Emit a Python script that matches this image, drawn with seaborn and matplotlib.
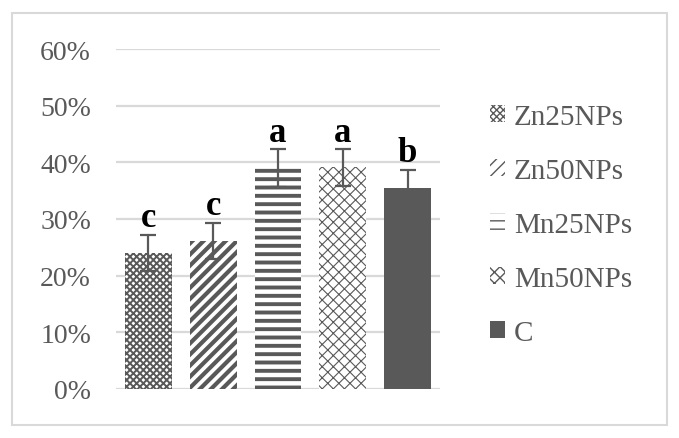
import numpy as np
import seaborn as sns
import matplotlib.pyplot as plt
from matplotlib.patches import Rectangle
from matplotlib.ticker import PercentFormatter

# %%
groups = ["Zn25NPs", "Zn50NPs", "Mn25NPs", "Mn50NPs", "C"]
means = [0.240, 0.261, 0.390, 0.391, 0.354]
errors = [0.032, 0.032, 0.033, 0.032, 0.033]
letters = ["c", "c", "a", "a", "b"]

# %%
sns.set_style("white")
plt.rcParams["font.family"] = ["Liberation Serif", "DejaVu Serif"]
gray = "#595959"
hatches = ["xxxxx", "///", "--", "xxx", ""]
hatch_lw = [1.4, 3.0, 2.8, 0.8, 1.0]
fills = ["white", "white", "white", "white", gray]

fig = plt.figure(figsize=(6.79, 4.39), dpi=100)
ax = fig.add_axes([116 / 679, 49 / 439, 324 / 679, 340 / 439])

sns.barplot(x=groups, y=means, color=gray, width=0.72, errorbar=None, ax=ax)
for p, h, lw, fc in zip(ax.patches, hatches, hatch_lw, fills):
    p.set_facecolor(fc)
    p.set_edgecolor(gray)
    p.set_linewidth(0)
    p.set_hatch(h)
    if hasattr(p, "set_hatch_linewidth"):
        p.set_hatch_linewidth(lw)

xs = np.arange(len(groups))
ax.errorbar(xs, means, yerr=errors, fmt="none", ecolor=gray, elinewidth=1.6,
            capsize=6, capthick=1.6, zorder=5)
for x, m, e, t in zip(xs, means, errors, letters):
    ax.text(x, m + e + 0.015, t, ha="center", va="baseline", fontsize=25,
            fontweight="bold", color="black")

ax.set_ylim(0, 0.6)
ax.set_xlim(-0.5, 4.5)
ax.set_yticks(np.arange(0, 0.61, 0.1))
ax.yaxis.set_major_formatter(PercentFormatter(1.0, decimals=0))
ax.set_xticks([])
ax.grid(axis="y", color="#d9d9d9", linewidth=1.6)
ax.set_axisbelow(True)
sns.despine(ax=ax, left=True, bottom=True)
ax.tick_params(axis="y", length=0, pad=18, labelsize=20, labelcolor=gray)
ax.set_xlabel("")
ax.set_ylabel("")

leg = ax.legend(ax.patches, groups, loc="upper left",
                bbox_to_anchor=(490 / 679, 1 - 105 / 439),
                bbox_transform=fig.transFigure, frameon=False, fontsize=21,
                handlelength=0.52, handleheight=0.52, handletextpad=0.3,
                labelspacing=0.96, borderpad=0, borderaxespad=0)
for txt in leg.get_texts():
    txt.set_color(gray)

fig.patches.append(Rectangle((12 / 679, 13 / 439), 655 / 679, 412 / 439,
                             transform=fig.transFigure, fill=False,
                             edgecolor="#d9d9d9", linewidth=1.5))

fig.savefig("out.png", dpi=100, facecolor="white")
